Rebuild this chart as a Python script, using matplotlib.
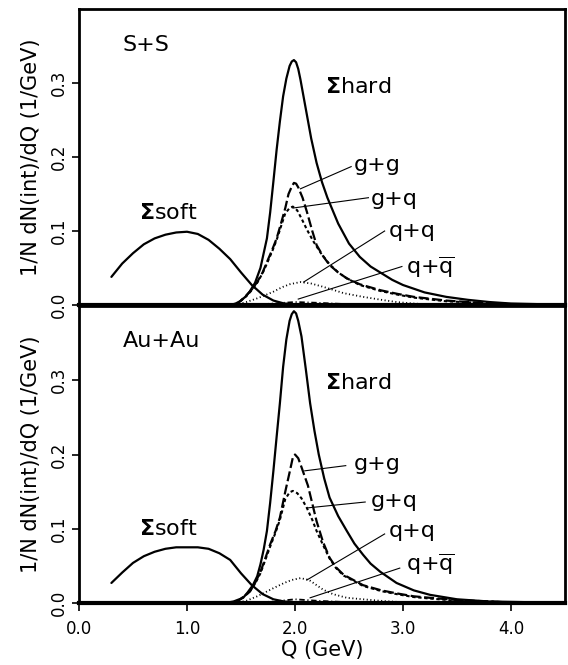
import matplotlib
matplotlib.use("Agg")
import matplotlib.pyplot as plt

# ---------------- data ----------------
# S+S panel
ss_soft_q = [0.30, 0.40, 0.50, 0.60, 0.70, 0.80, 0.90, 1.00, 1.10, 1.20, 1.30, 1.40, 1.50, 1.60, 1.70, 1.80, 1.90, 2.00, 2.10]
ss_soft_v = [0.038, 0.056, 0.070, 0.082, 0.090, 0.095, 0.098, 0.099, 0.096, 0.088, 0.076, 0.062, 0.044, 0.027, 0.014, 0.006, 0.002, 0.001, 0.0]

ss_hard_q = [1.40, 1.45, 1.49, 1.54, 1.58, 1.63, 1.68, 1.74, 1.77, 1.80, 1.83, 1.86, 1.89, 1.92, 1.95, 1.97, 1.99, 2.01, 2.03, 2.05, 2.10, 2.15, 2.20, 2.25, 2.30, 2.40, 2.50, 2.60, 2.70, 2.80, 2.90, 3.00, 3.20, 3.40, 3.60, 3.80, 4.00, 4.30, 4.50]
ss_hard_v = [0.0, 0.002, 0.005, 0.011, 0.018, 0.030, 0.050, 0.090, 0.125, 0.167, 0.210, 0.248, 0.282, 0.306, 0.323, 0.329, 0.331, 0.328, 0.319, 0.305, 0.265, 0.225, 0.192, 0.166, 0.145, 0.110, 0.083, 0.065, 0.052, 0.043, 0.034, 0.027, 0.017, 0.011, 0.007, 0.004, 0.002, 0.001, 0.0]

ss_gg_q = [1.45, 1.50, 1.55, 1.60, 1.65, 1.70, 1.74, 1.79, 1.83, 1.87, 1.91, 1.94, 1.97, 1.99, 2.01, 2.03, 2.07, 2.11, 2.16, 2.20, 2.26, 2.32, 2.40, 2.48, 2.60, 2.79, 2.95, 3.10, 3.40, 3.70, 4.00]
ss_gg_v = [0.0, 0.006, 0.013, 0.021, 0.031, 0.044, 0.058, 0.075, 0.090, 0.110, 0.131, 0.150, 0.160, 0.165, 0.164, 0.159, 0.145, 0.126, 0.100, 0.081, 0.066, 0.054, 0.044, 0.036, 0.028, 0.020, 0.015, 0.011, 0.006, 0.003, 0.001]

ss_gq_q = [1.45, 1.50, 1.55, 1.60, 1.65, 1.70, 1.74, 1.79, 1.83, 1.87, 1.91, 1.95, 1.98, 2.02, 2.06, 2.11, 2.17, 2.24, 2.32, 2.40, 2.48, 2.60, 2.79, 2.95, 3.10, 3.40, 3.70, 4.00]
ss_gq_v = [0.0, 0.006, 0.012, 0.020, 0.030, 0.043, 0.056, 0.073, 0.088, 0.106, 0.124, 0.131, 0.133, 0.128, 0.117, 0.102, 0.086, 0.070, 0.055, 0.044, 0.036, 0.027, 0.019, 0.014, 0.010, 0.005, 0.003, 0.001]

ss_qq_q = [1.45, 1.55, 1.65, 1.72, 1.80, 1.88, 1.95, 2.05, 2.15, 2.25, 2.32, 2.45, 2.63, 2.80, 2.94, 3.10, 3.30]
ss_qq_v = [0.0, 0.004, 0.009, 0.013, 0.018, 0.024, 0.028, 0.031, 0.029, 0.025, 0.022, 0.016, 0.011, 0.007, 0.004, 0.002, 0.0]

ss_qqb_q = [1.60, 1.80, 2.00, 2.20, 2.50, 2.80]
ss_qqb_v = [0.0, 0.002, 0.004, 0.003, 0.001, 0.0]

# Au+Au panel
au_soft_q = [0.30, 0.40, 0.50, 0.60, 0.70, 0.80, 0.90, 1.00, 1.10, 1.20, 1.30, 1.40, 1.50, 1.60, 1.70, 1.80, 1.90, 2.00, 2.10]
au_soft_v = [0.027, 0.041, 0.054, 0.063, 0.069, 0.073, 0.075, 0.075, 0.075, 0.073, 0.067, 0.058, 0.040, 0.024, 0.012, 0.005, 0.002, 0.001, 0.0]

au_hard_q = [1.35, 1.43, 1.52, 1.56, 1.61, 1.65, 1.68, 1.71, 1.74, 1.77, 1.80, 1.83, 1.86, 1.89, 1.92, 1.95, 1.97, 1.99, 2.01, 2.03, 2.06, 2.10, 2.14, 2.18, 2.22, 2.27, 2.32, 2.40, 2.48, 2.55, 2.63, 2.70, 2.79, 2.94, 3.10, 3.25, 3.50, 3.80, 4.20, 4.50]
au_hard_v = [0.0, 0.002, 0.007, 0.014, 0.024, 0.036, 0.052, 0.072, 0.097, 0.135, 0.178, 0.224, 0.269, 0.318, 0.355, 0.380, 0.389, 0.393, 0.390, 0.380, 0.359, 0.315, 0.269, 0.232, 0.200, 0.168, 0.142, 0.117, 0.097, 0.080, 0.065, 0.053, 0.042, 0.027, 0.017, 0.011, 0.005, 0.002, 0.001, 0.0]

au_gg_q = [1.45, 1.52, 1.58, 1.63, 1.68, 1.72, 1.77, 1.82, 1.86, 1.91, 1.95, 1.98, 2.00, 2.03, 2.06, 2.12, 2.16, 2.20, 2.26, 2.32, 2.38, 2.45, 2.63, 2.80, 2.94, 3.10, 3.25, 3.50, 3.80, 4.10]
au_gg_v = [0.0, 0.008, 0.015, 0.027, 0.042, 0.058, 0.079, 0.097, 0.115, 0.150, 0.176, 0.196, 0.200, 0.195, 0.183, 0.158, 0.134, 0.110, 0.082, 0.061, 0.048, 0.038, 0.024, 0.017, 0.013, 0.009, 0.007, 0.004, 0.002, 0.0]

au_gq_q = [1.45, 1.52, 1.58, 1.63, 1.68, 1.72, 1.77, 1.82, 1.86, 1.91, 1.95, 1.98, 2.02, 2.06, 2.11, 2.16, 2.20, 2.26, 2.32, 2.38, 2.45, 2.63, 2.80, 2.94, 3.10, 3.25, 3.50, 3.80, 4.10]
au_gq_v = [0.0, 0.008, 0.015, 0.026, 0.040, 0.056, 0.076, 0.095, 0.112, 0.140, 0.149, 0.151, 0.148, 0.141, 0.128, 0.112, 0.097, 0.078, 0.060, 0.047, 0.037, 0.023, 0.016, 0.012, 0.008, 0.006, 0.003, 0.002, 0.0]

au_qq_q = [1.45, 1.55, 1.65, 1.72, 1.80, 1.90, 1.97, 2.05, 2.13, 2.20, 2.26, 2.35, 2.48, 2.63, 2.79, 3.00, 3.20]
au_qq_v = [0.0, 0.003, 0.009, 0.014, 0.020, 0.027, 0.031, 0.0335, 0.031, 0.024, 0.018, 0.012, 0.007, 0.005, 0.003, 0.001, 0.0]

au_qqb_q = [1.60, 1.80, 2.00, 2.20, 2.50, 2.80]
au_qqb_v = [0.0, 0.002, 0.005, 0.003, 0.001, 0.0]

x_ticks = [0.0, 1.0, 2.0, 3.0, 4.0]
x_ticklabels = ["0.0", "1.0", "2.0", "3.0", "4.0"]
y_ticks = [0.0, 0.1, 0.2, 0.3]
y_ticklabels = ["0.0", "0.1", "0.2", "0.3"]

panel_names = ["S+S", "Au+Au"]
curve_labels = ["g+g", "g+q", "q+q", r"q+$\overline{\mathrm{q}}$"]

# ---------------- figure ----------------
fig = plt.figure(figsize=(5.68, 6.65), dpi=100)
W, H = 568.0, 665.0
left = 79 / W
width = (565 - 79) / W
ax1 = fig.add_axes([left, 1 - 305 / H, width, (305 - 9) / H])
ax2 = fig.add_axes([left, 1 - 603 / H, width, (603 - 306) / H])

lw_main = 1.6
panels = [
    (ax1, ss_soft_q, ss_soft_v, ss_hard_q, ss_hard_v, ss_gg_q, ss_gg_v, ss_gq_q, ss_gq_v,
     ss_qq_q, ss_qq_v, ss_qqb_q, ss_qqb_v),
    (ax2, au_soft_q, au_soft_v, au_hard_q, au_hard_v, au_gg_q, au_gg_v, au_gq_q, au_gq_v,
     au_qq_q, au_qq_v, au_qqb_q, au_qqb_v),
]

# annotation positions (data coords): text anchor, leader start, leader end
ann = {
    0: dict(name=(0.40, 0.352), soft=(0.56, 0.124), hard=(2.28, 0.295),
            labels=[((2.54, 0.189), (2.52, 0.187), (2.05, 0.157)),
                    ((2.70, 0.143), (2.68, 0.145), (1.98, 0.131)),
                    ((2.87, 0.100), (2.83, 0.100), (2.08, 0.031)),
                    ((3.03, 0.051), (2.99, 0.052), (2.03, 0.008))]),
    1: dict(name=(0.41, 0.353), soft=(0.56, 0.099), hard=(2.28, 0.296),
            labels=[((2.54, 0.187), (2.47, 0.185), (2.09, 0.178)),
                    ((2.70, 0.137), (2.65, 0.136), (2.11, 0.128)),
                    ((2.87, 0.097), (2.83, 0.093), (2.11, 0.031)),
                    ((3.03, 0.052), (2.97, 0.047), (2.14, 0.007))]),
}

for i, (ax, sq, sv, hq, hv, gq_, gv, qq1, qv1, qq2, qv2, qb_q, qb_v) in enumerate(panels):
    ax.plot(sq, sv, color="black", lw=lw_main, solid_capstyle="round")
    ax.plot(hq, hv, color="black", lw=lw_main, solid_joinstyle="round")
    ax.plot(gq_, gv, color="black", lw=1.6, dashes=(4.5, 1.6))
    ax.plot(qq1, qv1, color="black", lw=1.5, dashes=(1.6, 1.3))
    ax.plot(qq2, qv2, color="black", lw=1.3, dashes=(0.6, 1.4))
    ax.plot(qb_q, qb_v, color="black", lw=1.3, dashes=(3, 1.5, 0.6, 1.5))

    a = ann[i]
    ax.text(a["name"][0], a["name"][1], panel_names[i], fontsize=16, va="center", ha="left")
    ax.text(a["soft"][0], a["soft"][1], r"$\mathbf{\Sigma}$soft", fontsize=16, va="center", ha="left")
    ax.text(a["hard"][0], a["hard"][1], r"$\mathbf{\Sigma}$hard", fontsize=16, va="center", ha="left")
    for lab, (tp, p0, p1) in zip(curve_labels, a["labels"]):
        ax.text(tp[0], tp[1], lab, fontsize=16, va="center", ha="left")
        ax.plot([p0[0], p1[0]], [p0[1], p1[1]], color="black", lw=0.8)

    ax.set_xlim(0, 4.5)
    ax.set_ylim(0, 0.4)
    ax.set_yticks(y_ticks)
    ax.set_yticklabels(y_ticklabels, rotation=90, va="center", fontsize=12)
    ax.tick_params(axis="y", direction="out", length=5, width=1.2, pad=3)
    ax.set_ylabel("1/N dN(int)/dQ (1/GeV)", fontsize=15)
    ax.yaxis.set_label_coords(-0.078, 0.5)
    for s in ax.spines.values():
        s.set_linewidth(2.0)
    ax.spines["bottom"].set_linewidth(3.0)

ax1.set_xticks([])
ax2.set_xticks(x_ticks)
ax2.set_xticklabels(x_ticklabels, fontsize=12)
ax2.tick_params(axis="x", direction="out", length=6, width=1.2, pad=6)
ax2.set_xlabel("Q (GeV)", fontsize=15, labelpad=2)

fig.savefig("out.png", dpi=100)
